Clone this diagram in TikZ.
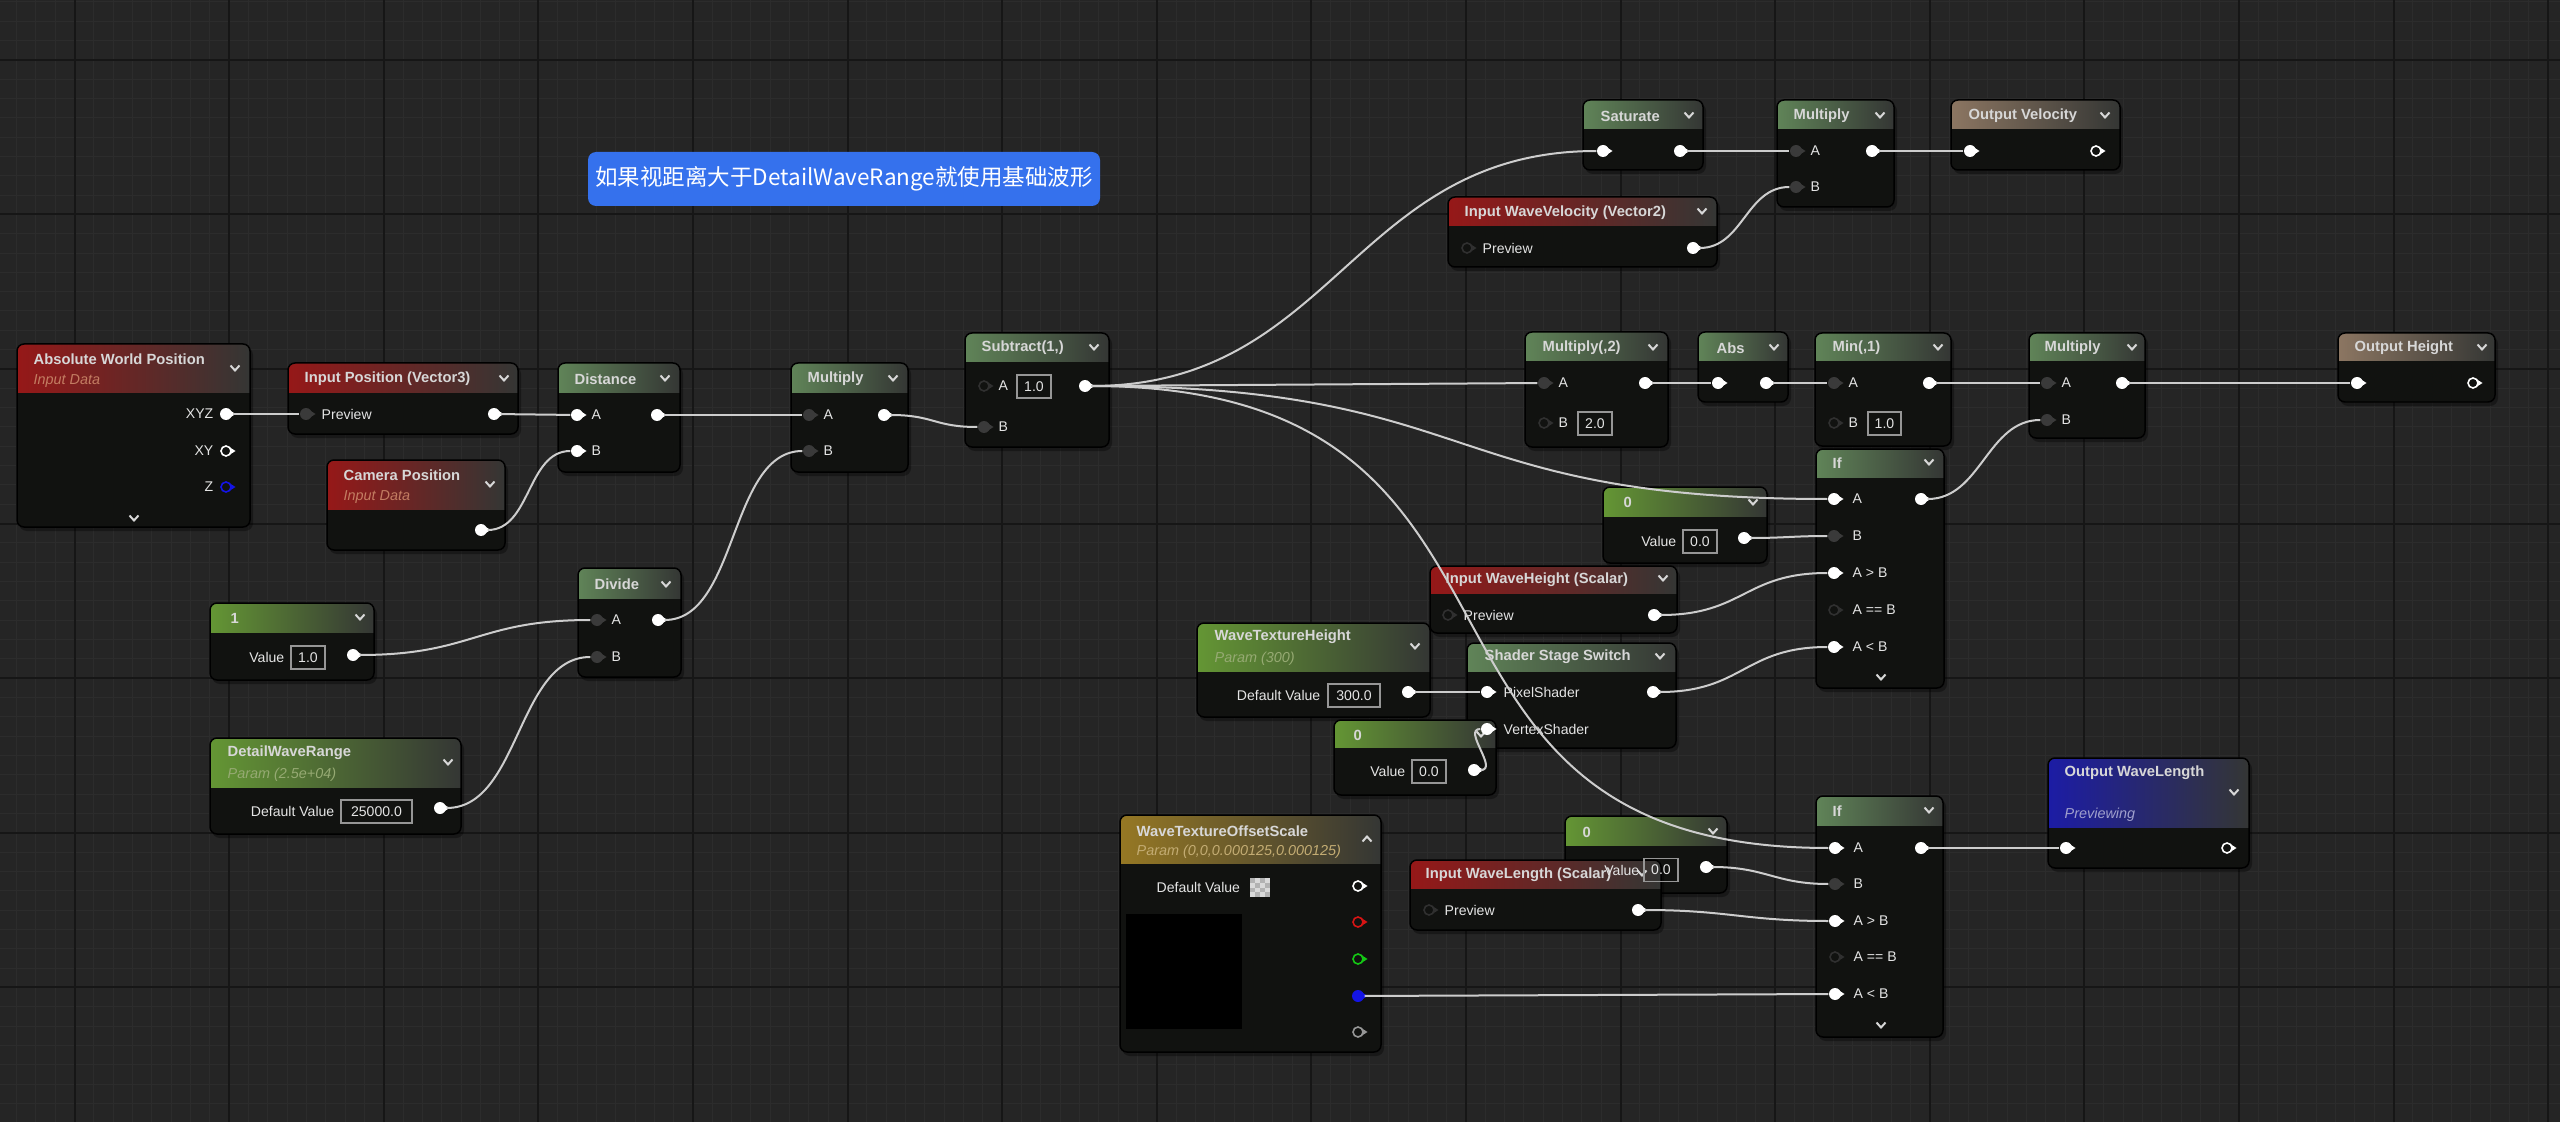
\documentclass[tikz,border=0pt]{standalone}
\usepackage{fontspec}
\setmainfont{Liberation Sans}
\newfontfamily\cjk{Noto Sans CJK SC}
\usetikzlibrary{fit}
\definecolor{uebg}{RGB}{37,37,37}
\definecolor{gridminor}{RGB}{44,44,44}
\definecolor{gridmajor}{RGB}{22,22,22}
\definecolor{nodebody}{RGB}{17,18,16}
\definecolor{hdgray}{RGB}{52,54,52}
\definecolor{hred}{RGB}{150,24,24}
\definecolor{hmath}{RGB}{96,132,88}
\definecolor{hconst}{RGB}{100,150,52}
\definecolor{hout}{RGB}{140,118,98}
\definecolor{hgold}{RGB}{150,120,36}
\definecolor{hblue}{RGB}{28,28,165}
\definecolor{ttlcol}{RGB}{215,215,215}
\definecolor{lblcol}{RGB}{228,228,228}
\definecolor{subred}{RGB}{195,125,98}
\definecolor{subgreen}{RGB}{150,170,115}
\definecolor{subgold}{RGB}{195,172,115}
\definecolor{subblue}{RGB}{160,160,205}
\definecolor{pindark}{RGB}{58,58,58}
\definecolor{ringd}{RGB}{48,48,48}
\definecolor{boxcol}{RGB}{150,150,150}
\definecolor{wirecol}{RGB}{205,205,205}
\definecolor{notecol}{RGB}{53,113,237}
\definecolor{zblue}{RGB}{20,20,230}
\definecolor{rred}{RGB}{215,20,20}
\definecolor{rgreen}{RGB}{20,200,20}
\newcommand{\uebox}[7]{%
  \fill[black,opacity=0.35,rounded corners=0.8mm] (#2+2,#3+3) rectangle (#4+3,#5+4);
  \node[body,fit={(#2,#3)(#4,#5)}] (#1) {};
  \begin{scope}
    \clip[rounded corners=0.7mm] (#2,#3) rectangle (#4,#5);
    \shade[left color=#7,right color=hdgray] (#2,#3) rectangle (#4,#6);
  \end{scope}
  \draw[rounded corners=0.7mm,draw=black,line width=0.15mm] (#2,#3) rectangle (#4,#5);}
\newcommand{\uepin}[5]{\fill[#5] (#2+4,#3-3.5) -- (#2+9.5,#3) -- (#2+4,#3+3.5) -- cycle; \node[#4] (#1) at (#2,#3) {};}
\newcommand{\chev}[2]{\draw[chev] (#1-4.5,#2-2.5) -- (#1,#2+2.5) -- (#1+4.5,#2-2.5);}
\newcommand{\chevup}[2]{\draw[chev] (#1-4.5,#2+2.5) -- (#1,#2-2.5) -- (#1+4.5,#2+2.5);}

\begin{document}
\begin{tikzpicture}[x=0.1mm,y=-0.1mm,body/.style={inner sep=0,fill=nodebody,rounded corners=0.7mm},ttl/.style={anchor=west,inner sep=0,text=ttlcol,font=\fontsize{4.2}{5}\selectfont\bfseries},sub/.style={anchor=west,inner sep=0,font=\fontsize{4.1}{5}\selectfont\itshape},lbl/.style={anchor=west,inner sep=0,text=lblcol,font=\fontsize{4}{5}\selectfont},valbox/.style={draw=boxcol,line width=0.12mm,inner sep=0,minimum height=2.3mm,text=lblcol,font=\fontsize{4}{5}\selectfont},pinw/.style={circle,fill=white,inner sep=0,minimum size=1.2mm},pind/.style={circle,fill=pindark,inner sep=0,minimum size=1.2mm},pinr/.style={circle,draw=#1,fill=nodebody,line width=0.16mm,inner sep=0,minimum size=1.0mm},pinb/.style={circle,fill=zblue,inner sep=0,minimum size=1.2mm},wire/.style={draw=wirecol,line width=0.2mm},chev/.style={draw=ttlcol,line width=0.2mm},note/.style={fill=notecol,rounded corners=0.8mm,minimum width=51.2mm,minimum height=5.4mm,inner sep=0,text=white,font=\cjk\fontsize{6.4}{7}\selectfont},minorgrid/.style={draw=gridminor,line width=0.1mm},majorgrid/.style={draw=gridmajor,line width=0.2mm}]
\useasboundingbox (0,0) rectangle (2560,1122);
\fill[uebg] (0,0) rectangle (2560,1122);
\foreach \i in {0,...,131} \draw[minorgrid] ({16.6+19.325*\i},0) -- ({16.6+19.325*\i},1122);
\foreach \j in {0,...,57} \draw[minorgrid] (0,{1.8+19.325*\j}) -- (2560,{1.8+19.325*\j});
\foreach \i in {0,...,16} \draw[majorgrid] ({74.6+154.6*\i},0) -- ({74.6+154.6*\i},1122);
\foreach \j in {0,...,6} \draw[majorgrid] (0,{59.8+154.6*\j}) -- (2560,{59.8+154.6*\j});

\node[note] (note) at (844,179) {如果视距离大于DetailWaveRange就使用基础波形};

\uebox{awp}{17}{344}{250}{527}{393}{hred}
\uebox{ip}{288}{363}{518}{434}{393}{hred}
\uebox{cam}{327}{460}{505}{550}{509}{hred}
\uebox{dist}{558}{363}{680}{472}{393}{hmath}
\uebox{mul1}{791}{363}{908}{472}{393}{hmath}
\uebox{sub}{965}{333}{1109}{447}{362}{hmath}
\uebox{div}{578}{568}{681}{677}{598}{hmath}
\uebox{one}{210}{603}{374}{680}{632}{hconst}
\uebox{dwr}{210}{738}{461}{834}{787}{hconst}
\uebox{sat}{1583}{100}{1703}{170}{129}{hmath}
\uebox{multop}{1777}{100}{1894}{207}{129}{hmath}
\uebox{outvel}{1951}{100}{2120}{170}{129}{hout}
\uebox{iwv}{1448}{197}{1717}{267}{226}{hred}
\uebox{mul2}{1525}{332}{1668}{447}{361}{hmath}
\uebox{abs}{1698}{332}{1788}{402}{361}{hmath}
\uebox{min}{1815}{333}{1951}{446}{361}{hmath}
\uebox{mul3}{2029}{333}{2145}{438}{361}{hmath}
\uebox{outh}{2338}{333}{2495}{402}{361}{hout}
\uebox{ift}{1816}{449}{1944}{688}{477}{hmath}
\uebox{zt}{1603}{487}{1767}{563}{516}{hconst}
\uebox{iwh}{1430}{566}{1677}{633}{593}{hred}
\uebox{wth}{1197}{623}{1430}{717}{671}{hconst}
\uebox{sss}{1467}{643}{1676}{748}{671}{hmath}
\uebox{zm}{1334}{720}{1496}{795}{747}{hconst}
\uebox{wtos}{1120}{815}{1381}{1052}{863}{hgold}
\uebox{zb}{1565}{816}{1727}{893}{845}{hconst}
\uebox{iwl}{1410}{860}{1661}{930}{888}{hred}
\uebox{ifb}{1816}{796}{1943}{1037}{825}{hmath}
\uebox{owl}{2048}{758}{2249}{868}{827}{hblue}

\node[ttl] (awp-t) at (33,359) {Absolute World Position};
\node[sub,text=subred] (awp-s) at (33,381) {Input Data};
\node[ttl] (ip-t) at (304,379) {Input Position (Vector3)};
\node[ttl] (cam-t) at (343,475) {Camera Position};
\node[sub,text=subred] (cam-s) at (343,497) {Input Data};
\node[ttl] (dist-t) at (574,379) {Distance};
\node[ttl] (mul1-t) at (807,379) {Multiply};
\node[ttl] (sub-t) at (981,348) {Subtract(1,)};
\node[ttl] (div-t) at (594,584) {Divide};
\node[ttl] (one-t) at (230,618) {1};
\node[ttl] (dwr-t) at (227,753) {DetailWaveRange};
\node[sub,text=subgreen] (dwr-s) at (227,775) {Param (2.5e+04)};
\node[ttl] (sat-t) at (1600,116) {Saturate};
\node[ttl] (multop-t) at (1793,116) {Multiply};
\node[ttl] (outvel-t) at (1968,116) {Output Velocity};
\node[ttl] (iwv-t) at (1464,213) {Input WaveVelocity (Vector2)};
\node[ttl] (mul2-t) at (1542,348) {Multiply(,2)};
\node[ttl] (abs-t) at (1716,348) {Abs};
\node[ttl] (min-t) at (1832,348) {Min(,1)};
\node[ttl] (mul3-t) at (2044,348) {Multiply};
\node[ttl] (outh-t) at (2354,348) {Output Height};
\node[ttl] (ift-t) at (1832,463) {If};
\node[ttl] (zt-t) at (1623,502) {0};
\node[ttl] (iwh-t) at (1445,580) {Input WaveHeight (Scalar)};
\node[ttl] (wth-t) at (1214,637) {WaveTextureHeight};
\node[sub,text=subgreen] (wth-s) at (1214,659) {Param (300)};
\node[ttl] (sss-t) at (1484,657) {Shader Stage Switch};
\node[ttl] (zm-t) at (1353,735) {0};
\node[ttl] (wtos-t) at (1136,831) {WaveTextureOffsetScale};
\node[sub,text=subgold] (wtos-s) at (1136,852) {Param (0,0,0.000125,0.000125)};
\node[ttl] (zb-t) at (1582,832) {0};
\node[ttl] (iwl-t) at (1425,875) {Input WaveLength (Scalar)};
\node[ttl] (ifb-t) at (1832,811) {If};
\node[ttl] (owl-t) at (2064,773) {Output WaveLength};
\node[sub,text=subblue] (owl-s) at (2064,815) {Previewing};

\chev{235}{368} \chev{504}{378} \chev{490}{484} \chev{665}{378} \chev{893}{378} \chev{1094}{347} \chev{666}{584} \chev{360}{617} \chev{448}{762}
\chev{1689}{115} \chev{1880}{115} \chev{2105}{115} \chev{1702}{211} \chev{1653}{347} \chev{1774}{347} \chev{1938}{347} \chev{2132}{347} \chev{2482}{347}
\chev{1929}{462} \chev{1753}{502} \chev{1663}{578} \chev{1415}{646} \chev{1660}{656} \chev{1481}{734} \chev{1713}{831} \chev{1642}{873} \chev{1929}{810} \chev{2234}{792}
\chevup{1367}{839} \chev{134}{518} \chev{1881}{677} \chev{1881}{1025}

\node[lbl,anchor=east] (awp-l1) at (214,414) {XYZ};
\node[lbl,anchor=east] (awp-l2) at (214,451) {XY};
\node[lbl,anchor=east] (awp-l3) at (214,487) {Z};
\uepin{awp-xyz}{226}{414}{pinw}{white} \uepin{awp-xy}{226}{451}{pinr=white}{white} \uepin{awp-z}{226}{487}{pinr=zblue}{zblue}
\node[lbl] (ip-l) at (321,414) {Preview};
\uepin{ip-in}{306}{414}{pind}{pindark} \uepin{ip-out}{494}{414}{pinw}{white}
\uepin{cam-out}{481}{530}{pinw}{white}
\node[lbl] (dist-la) at (591,415) {A}; \node[lbl] (dist-lb) at (591,451) {B};
\uepin{dist-a}{577}{415}{pinw}{white} \uepin{dist-b}{577}{451}{pinw}{white} \uepin{dist-out}{657}{415}{pinw}{white}
\node[lbl] (mul1-la) at (823,415) {A}; \node[lbl] (mul1-lb) at (823,451) {B};
\uepin{mul1-a}{809}{415}{pind}{pindark} \uepin{mul1-b}{809}{451}{pind}{pindark} \uepin{mul1-out}{884}{415}{pinw}{white}
\node[lbl] (sub-la) at (998,386) {A}; \node[valbox,minimum width=3.4mm] (sub-v) at (1034,386.5) {1.0}; \node[lbl] (sub-lb) at (998,427) {B};
\uepin{sub-a}{984}{386}{pinr=ringd}{ringd} \uepin{sub-b}{984}{427}{pind}{pindark} \uepin{sub-out}{1085}{386}{pinw}{white}
\node[lbl] (div-la) at (611,620) {A}; \node[lbl] (div-lb) at (611,657) {B};
\uepin{div-a}{597}{620}{pind}{pindark} \uepin{div-b}{597}{657}{pind}{pindark} \uepin{div-out}{658}{620}{pinw}{white}
\node[lbl,anchor=east] (one-l) at (285,657) {Value}; \node[valbox,minimum width=3.4mm] (one-v) at (308,657.5) {1.0};
\uepin{one-out}{353}{655}{pinw}{white}
\node[lbl,anchor=east] (dwr-l) at (335,811) {Default Value}; \node[valbox,minimum width=7.1mm] (dwr-v) at (376.5,811.5) {25000.0};
\uepin{dwr-out}{440}{808}{pinw}{white}
\uepin{sat-in}{1603}{151}{pinw}{white} \uepin{sat-out}{1680}{151}{pinw}{white}
\node[lbl] (multop-la) at (1810,151) {A}; \node[lbl] (multop-lb) at (1810,187) {B};
\uepin{multop-a}{1796}{151}{pind}{pindark} \uepin{multop-b}{1796}{187}{pind}{pindark} \uepin{multop-out}{1872}{151}{pinw}{white}
\uepin{outvel-in}{1970}{151}{pinw}{white} \uepin{outvel-r}{2096}{151}{pinr=white}{white}
\node[lbl] (iwv-l) at (1482,248) {Preview};
\uepin{iwv-in}{1467}{248}{pinr=ringd}{ringd} \uepin{iwv-out}{1693}{248}{pinw}{white}
\node[lbl] (mul2-la) at (1558,383) {A}; \node[lbl] (mul2-lb) at (1558,423) {B}; \node[valbox,minimum width=3.4mm] (mul2-v) at (1595,423.5) {2.0};
\uepin{mul2-a}{1544}{383}{pind}{pindark} \uepin{mul2-b}{1544}{423}{pinr=ringd}{ringd} \uepin{mul2-out}{1645}{383}{pinw}{white}
\uepin{abs-in}{1718}{383}{pinw}{white} \uepin{abs-out}{1766}{383}{pinw}{white}
\node[lbl] (min-la) at (1848,383) {A}; \node[lbl] (min-lb) at (1848,423) {B}; \node[valbox,minimum width=3.3mm] (min-v) at (1884.5,423.5) {1.0};
\uepin{min-a}{1834}{383}{pind}{pindark} \uepin{min-b}{1834}{423}{pinr=ringd}{ringd} \uepin{min-out}{1929}{383}{pinw}{white}
\node[lbl] (mul3-la) at (2061,383) {A}; \node[lbl] (mul3-lb) at (2061,420) {B};
\uepin{mul3-a}{2047}{383}{pind}{pindark} \uepin{mul3-b}{2047}{420}{pind}{pindark} \uepin{mul3-out}{2122}{383}{pinw}{white}
\uepin{outh-in}{2357}{383}{pinw}{white} \uepin{outh-r}{2473}{383}{pinr=white}{white}
\node[lbl] (ift-l1) at (1852,499) {A}; \node[lbl] (ift-l2) at (1852,536) {B}; \node[lbl] (ift-l3) at (1852,573) {A > B}; \node[lbl] (ift-l4) at (1852,610) {A == B}; \node[lbl] (ift-l5) at (1852,647) {A < B};
\uepin{ift-a}{1834}{499}{pinw}{white} \uepin{ift-b}{1834}{536}{pind}{pindark} \uepin{ift-gt}{1834}{573}{pinw}{white} \uepin{ift-eq}{1834}{610}{pinr=ringd}{ringd} \uepin{ift-lt}{1834}{647}{pinw}{white} \uepin{ift-out}{1921}{499}{pinw}{white}
\node[lbl,anchor=east] (zt-l) at (1677,541) {Value}; \node[valbox,minimum width=3.4mm] (zt-v) at (1700,541.5) {0.0};
\uepin{zt-out}{1744}{538}{pinw}{white}
\node[lbl] (iwh-l) at (1463,615) {Preview};
\uepin{iwh-in}{1448}{615}{pinr=ringd}{ringd} \uepin{iwh-out}{1654}{615}{pinw}{white}
\node[lbl,anchor=east] (wth-l) at (1321,695) {Default Value}; \node[valbox,minimum width=5.2mm] (wth-v) at (1354,695.5) {300.0};
\uepin{wth-out}{1408}{692}{pinw}{white}
\node[lbl] (sss-l1) at (1503,692) {PixelShader}; \node[lbl] (sss-l2) at (1503,729) {VertexShader};
\uepin{sss-px}{1487}{692}{pinw}{white} \uepin{sss-vx}{1487}{729}{pinw}{white} \uepin{sss-out}{1653}{692}{pinw}{white}
\node[lbl,anchor=east] (zm-l) at (1406,771.5) {Value}; \node[valbox,minimum width=3.4mm] (zm-v) at (1429,771.5) {0.0};
\uepin{zm-out}{1474}{770}{pinw}{white}
\node[lbl] (wtos-l) at (1156,887) {Default Value};
\fill[white!85!black] (1250,878) rectangle (1270,897);
\foreach \a/\b in {0/0,0/2,1/1,1/3,2/0,2/2,3/1,3/3} \fill[gray!60] ({1250+5*\a},{878+4.75*\b}) rectangle ++(5,4.75);
\fill[black] (1126,914) rectangle (1242,1029);
\uepin{wtos-rgb}{1358}{886}{pinr=white}{white} \uepin{wtos-r}{1358}{922}{pinr=rred}{rred} \uepin{wtos-g}{1358}{959}{pinr=rgreen}{rgreen} \uepin{wtos-b}{1358}{996}{pinb}{zblue} \uepin{wtos-a}{1358}{1032}{pinr=boxcol}{boxcol}
\node[lbl] (iwl-l) at (1444,910) {Preview};
\uepin{iwl-in}{1429}{910}{pinr=ringd}{ringd} \uepin{iwl-out}{1638}{910}{pinw}{white}
\node[lbl,anchor=east] (zb-l) at (1640,870) {Value}; \node[valbox,minimum width=3.4mm] (zb-v) at (1661,870) {0.0};
\uepin{zb-out}{1706}{867}{pinw}{white}
\node[lbl] (ifb-l1) at (1853,848) {A}; \node[lbl] (ifb-l2) at (1853,884) {B}; \node[lbl] (ifb-l3) at (1853,921) {A > B}; \node[lbl] (ifb-l4) at (1853,957) {A == B}; \node[lbl] (ifb-l5) at (1853,994) {A < B};
\uepin{ifb-a}{1835}{848}{pinw}{white} \uepin{ifb-b}{1835}{884}{pind}{pindark} \uepin{ifb-gt}{1835}{921}{pinw}{white} \uepin{ifb-eq}{1835}{957}{pinr=ringd}{ringd} \uepin{ifb-lt}{1835}{994}{pinw}{white} \uepin{ifb-out}{1921}{848}{pinw}{white}
\uepin{owl-in}{2066}{848}{pinw}{white} \uepin{owl-r}{2227}{848}{pinr=white}{white}

\draw[wire] (awp-xyz) -- (ip-in);
\draw[wire] (ip-out) -- (dist-a);
\draw[wire] (cam-out) .. controls +(50,0) and +(-50,0) .. (dist-b);
\draw[wire] (dist-out) -- (mul1-a);
\draw[wire] (div-out) .. controls +(80,0) and +(-80,0) .. (mul1-b);
\draw[wire] (one-out) .. controls +(120,0) and +(-120,0) .. (div-a);
\draw[wire] (dwr-out) .. controls +(80,0) and +(-80,0) .. (div-b);
\draw[wire] (mul1-out) .. controls +(50,0) and +(-50,0) .. (sub-b);
\draw[wire] (sub-out) .. controls +(250,0) and +(-250,0) .. (sat-in);
\draw[wire] (sub-out) -- (mul2-a);
\draw[wire] (sub-out) .. controls +(400,0) and +(-400,0) .. (ift-a);
\draw[wire] (sub-out) .. controls +(500,0) and +(-480,0) .. (ifb-a);
\draw[wire] (sat-out) -- (multop-a);
\draw[wire] (iwv-out) .. controls +(50,0) and +(-50,0) .. (multop-b);
\draw[wire] (multop-out) -- (outvel-in);
\draw[wire] (mul2-out) -- (abs-in);
\draw[wire] (abs-out) -- (min-a);
\draw[wire] (min-out) -- (mul3-a);
\draw[wire] (mul3-out) -- (outh-in);
\draw[wire] (ift-out) .. controls +(60,0) and +(-60,0) .. (mul3-b);
\draw[wire] (zt-out) .. controls +(40,0) and +(-40,0) .. (ift-b);
\draw[wire] (iwh-out) .. controls +(90,0) and +(-90,0) .. (ift-gt);
\draw[wire] (sss-out) .. controls +(90,0) and +(-90,0) .. (ift-lt);
\draw[wire] (wth-out) -- (sss-px);
\draw[wire] (zm-out) .. controls +(25,0) and +(-25,0) .. (sss-vx);
\draw[wire] (zb-out) .. controls +(60,0) and +(-60,0) .. (ifb-b);
\draw[wire] (iwl-out) .. controls +(90,0) and +(-90,0) .. (ifb-gt);
\draw[wire] (wtos-b) -- (ifb-lt);
\draw[wire] (ifb-out) -- (owl-in);
\end{tikzpicture}
\end{document}
